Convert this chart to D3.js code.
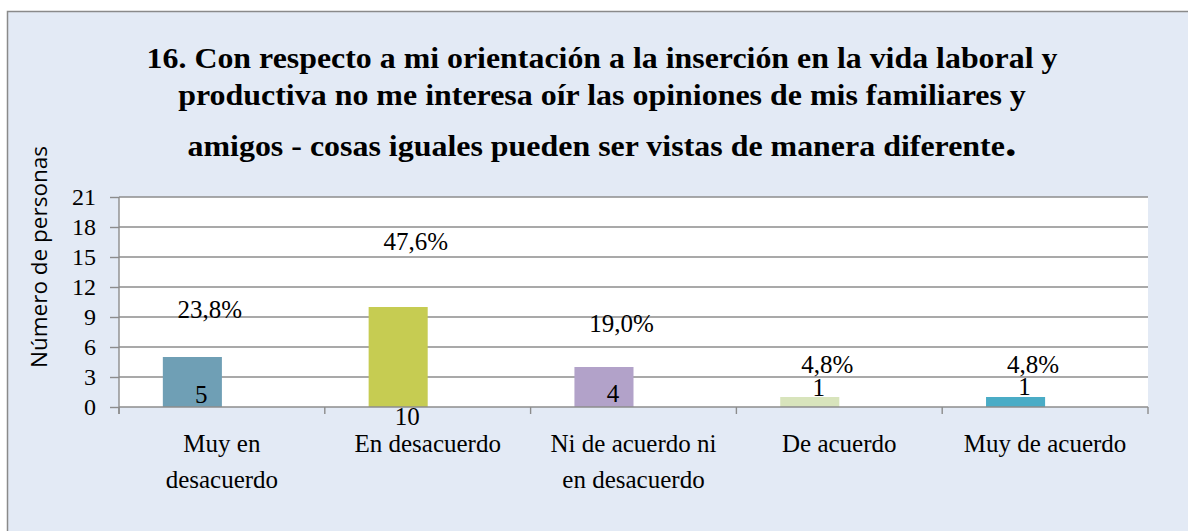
<!DOCTYPE html>
<html>
<head>
<meta charset="utf-8">
<script src="https://cdn.jsdelivr.net/npm/d3@7"></script>
<style>
  html, body { margin: 0; padding: 0; background: #ffffff; }
  svg { display: block; }
</style>
</head>
<body>
<div id="chart"></div>
<script>
// Data
const categories = [["Muy en", "desacuerdo"], ["En desacuerdo"], ["Ni de acuerdo ni", "en desacuerdo"], ["De acuerdo"], ["Muy de acuerdo"]];
const counts = [5, 10, 4, 1, 1];
const percents = ["23,8%", "47,6%", "19,0%", "4,8%", "4,8%"];
const percentValues = [23.8, 47.6, 19.0, 4.8, 4.8];
const barColours = ["#6f9fb5", "#c6cc52", "#b2a2c9", "#d8e4bc", "#4aacc6"];
const yTicks = [0, 3, 6, 9, 12, 15, 18, 21];
const titleLines = [
  "16. Con respecto a mi orientación a la inserción en la vida laboral y",
  "productiva no me interesa oír las opiniones de mis familiares y",
  "amigos - cosas iguales pueden ser vistas de manera diferente"
];

const width = 1188;
const height = 531;
const plot = { left: 119, right: 1148, top: 197, bottom: 407 };

// SVG
const svg = d3.select("#chart")
  .append("svg")
  .attr("width", width)
  .attr("height", height);

// Chart area background + border (clipped at right/bottom)
svg.append("rect")
  .attr("x", 7.5)
  .attr("y", 11.5)
  .attr("width", width + 20)
  .attr("height", height + 20)
  .attr("fill", "#e3eaf5")
  .attr("stroke", "#8a8a8a")
  .attr("stroke-width", 1.5);

// Scales
const x = d3.scaleBand()
  .domain(d3.range(categories.length))
  .range([plot.left, plot.right])
  .padding(0);

const y = d3.scaleLinear()
  .domain([0, 21])
  .range([plot.bottom, plot.top]);

// percent labels sit on their own (secondary) scale
const yPct = d3.scaleLinear()
  .domain([0, 50])
  .range([387, 243]);

// Plot area
svg.append("rect")
  .attr("x", plot.left)
  .attr("y", plot.top)
  .attr("width", plot.right - plot.left)
  .attr("height", plot.bottom - plot.top)
  .attr("fill", "#ffffff");

// Gridlines
svg.append("g")
  .attr("stroke", "#8c8c8c")
  .attr("stroke-width", 1.4)
  .selectAll("line")
  .data(yTicks.filter(d => d > 0))
  .join("line")
    .attr("x1", plot.left)
    .attr("x2", plot.right)
    .attr("y1", d => y(d))
    .attr("y2", d => y(d));

// Bars
const barW = x.bandwidth() * 0.287;
svg.append("g")
  .selectAll("rect")
  .data(counts)
  .join("rect")
    .attr("x", (d, i) => x(i) + x.bandwidth() / 2 - barW)
    .attr("y", d => y(d))
    .attr("width", barW)
    .attr("height", d => y(0) - y(d))
    .attr("fill", (d, i) => barColours[i]);

const serif = "'Liberation Serif', 'Times New Roman', serif";

// Y axis
const yAxis = svg.append("g")
  .attr("transform", `translate(${plot.left},0)`)
  .call(d3.axisLeft(y).tickValues(yTicks).tickSize(9).tickPadding(14));
yAxis.select(".domain").remove();
yAxis.selectAll(".tick line").attr("stroke", "#8c8c8c").attr("stroke-width", 1.4);
yAxis.selectAll(".tick text")
  .attr("font-family", serif)
  .attr("font-size", 24)
  .attr("fill", "#000");
svg.append("line")
  .attr("x1", plot.left).attr("x2", plot.left)
  .attr("y1", plot.top).attr("y2", plot.bottom + 7)
  .attr("stroke", "#8c8c8c").attr("stroke-width", 1.4);

// X axis
svg.append("line")
  .attr("x1", plot.left).attr("x2", plot.right)
  .attr("y1", plot.bottom).attr("y2", plot.bottom)
  .attr("stroke", "#8c8c8c").attr("stroke-width", 1.4);
svg.append("g")
  .attr("stroke", "#8c8c8c")
  .attr("stroke-width", 1.4)
  .selectAll("line")
  .data(d3.range(categories.length + 1))
  .join("line")
    .attr("x1", i => plot.left + i * x.bandwidth())
    .attr("x2", i => plot.left + i * x.bandwidth())
    .attr("y1", plot.bottom)
    .attr("y2", plot.bottom + 7);

// Category labels
svg.append("g")
  .attr("font-family", serif)
  .attr("font-size", 25)
  .attr("text-anchor", "middle")
  .selectAll("text")
  .data(categories)
  .join("text")
    .attr("x", (d, i) => x(i) + x.bandwidth() / 2)
    .attr("y", 452)
    .selectAll("tspan")
    .data(d => d)
    .join("tspan")
      .attr("x", function () { return this.parentNode.getAttribute("x"); })
      .attr("dy", (d, i) => i === 0 ? 0 : 36)
      .text(d => d);

// Percentage labels
svg.append("g")
  .attr("font-family", serif)
  .attr("font-size", 25)
  .attr("text-anchor", "middle")
  .selectAll("text")
  .data(percentValues)
  .join("text")
    .attr("x", (d, i) => x(i) + x.bandwidth() / 2 - 12)
    .attr("y", d => yPct(d))
    .text((d, i) => percents[i]);

// Count labels (anchor in data units)
const countLabelAt = [0.4, -1.8, 0.5, 1.1, 1.2];
svg.append("g")
  .attr("font-family", serif)
  .attr("font-size", 25)
  .attr("text-anchor", "middle")
  .selectAll("text")
  .data(counts)
  .join("text")
    .attr("x", (d, i) => x(i) + x.bandwidth() / 2 - barW / 2 + 9)
    .attr("y", (d, i) => y(countLabelAt[i]))
    .text(d => d);

// Y axis title
svg.append("text")
  .attr("transform", "translate(47,257) rotate(-90)")
  .attr("text-anchor", "middle")
  .attr("font-family", "'Open Sans', 'Noto Sans', sans-serif")
  .attr("font-size", 22.5)
  .text("Número de personas");

// Title
const title = svg.append("g")
  .attr("font-family", serif)
  .attr("font-weight", "bold")
  .attr("font-size", 29)
  .attr("fill", "#000")
  .attr("text-anchor", "middle");
const titleY = [68, 105, 156];
title.selectAll("text")
  .data(titleLines)
  .join("text")
    .attr("transform", (d, i) => `translate(602,${titleY[i]})`)
    .text(d => d);
title.select("text:last-child")
  .append("tspan")
  .attr("font-size", 42)
  .text(".");

// the reference title is a little wider than the face: stretch horizontally
const targetW = [911, 848, 829];
title.selectAll("text").each(function (d, i) {
  const sx = Math.max(0.9, Math.min(1.2, targetW[i] / this.getComputedTextLength()));
  d3.select(this).attr("transform", `translate(602,${titleY[i]}) scale(${sx},1)`);
});
</script>
</body>
</html>
